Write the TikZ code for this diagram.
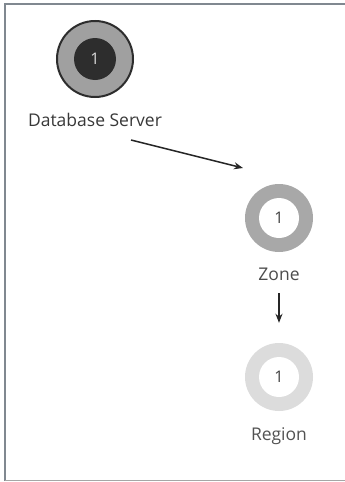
\documentclass[tikz,border=0pt]{standalone}
\usepackage{fontspec}
\setmainfont{Open Sans}
\usetikzlibrary{arrows.meta}
\definecolor{ringdark}{HTML}{A0A0A0}
\definecolor{ringmid}{HTML}{A8A8A8}
\definecolor{ringlight}{HTML}{DCDCDC}
\definecolor{core}{HTML}{2D2D2D}
\definecolor{framegray}{HTML}{808890}
\begin{document}
\begin{tikzpicture}[x=1pt, y=-1pt,
  ring/.style={circle, minimum size=68pt, inner sep=0pt},
  hole/.style={circle, fill=white, minimum size=40pt, inner sep=0pt, font=\fontsize{16}{18}\selectfont, text=black!75},
  lbl/.style={anchor=base, inner sep=0pt, font=\fontsize{17.5}{20}\selectfont},
  link/.style={-{Stealth[length=9pt,width=7pt]}, line width=1.5pt, black!85}]
\useasboundingbox (0,0) rectangle (345,482);
% frame
\draw[framegray, line width=2pt] (345,4) -- (5,4) -- (5,481);
\draw[black!35, line width=1.5pt] (5,480.5) -- (345,480.5);
\node[ring, minimum size=76pt, fill=ringdark, draw=core, line width=2pt] (db) at (95,59) {};
\node[circle, fill=core, minimum size=42pt, inner sep=0pt, text=white!85!black, font=\fontsize{16}{18}\selectfont] (dbn) at (db) {1};
\node[lbl, text=black!78] (dblbl) at (95,126) {Database Server};
\node[ring, fill=ringmid] (zone) at (279,218) {};
\node[hole] (zonen) at (zone) {1};
\node[lbl, text=black!70] (zonelbl) at (279,280) {Zone};
\node[ring, fill=ringlight] (region) at (279,377) {};
\node[hole] (regionn) at (region) {1};
\node[lbl, text=black!68] (regionlbl) at (279,440) {Region};
\coordinate (dbout) at (131,140);
\coordinate (zonein) at (243,168);
\draw[link] (dbout) -- (zonein);
\draw[link, shorten <=41pt, shorten >=20pt] (zone) -- (region);
\end{tikzpicture}
\end{document}
